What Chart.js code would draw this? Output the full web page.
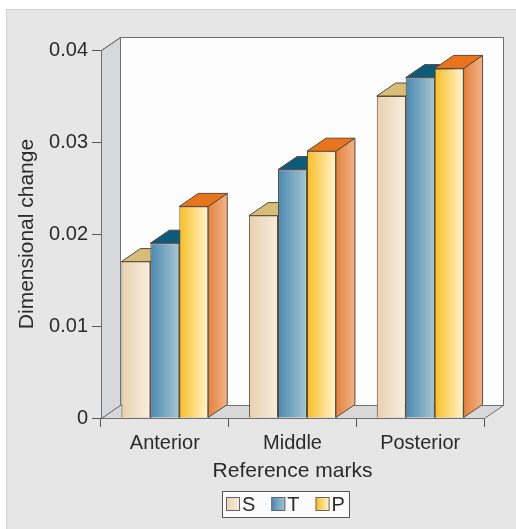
<!DOCTYPE html>
<html>
<head>
<meta charset="utf-8">
<script src="https://cdn.jsdelivr.net/npm/chart.js@4.4.1/dist/chart.umd.min.js"></script>
<style>
  html, body { margin: 0; padding: 0; background: #fff; }
</style>
</head>
<body>
<canvas id="dim-chart" width="516" height="529"></canvas>
<script>
const categories = ['Anterior', 'Middle', 'Posterior'];
const seriesNames = ['S', 'T', 'P'];
const sValues = [0.017, 0.022, 0.035];
const tValues = [0.019, 0.027, 0.037];
const pValues = [0.023, 0.029, 0.038];
const yTicks = [0, 0.01, 0.02, 0.03, 0.04];

const DEPTH_X = 19, DEPTH_Y = 13;
const CAT_PCT = 0.68;
const FONT = '"Liberation Sans", Arial, Helvetica, sans-serif';
const EDGE = '#5a4a38';
const TEXT = '#2b2b2b';

// front gradient (left -> right), top face, side face gradient
const palette = [
  { front: ['#e8d1ae', '#f8ede0'], top: '#d8bd78', side: ['#d6b98f', '#e9d3b2'] },
  { front: ['#4a89b2', '#a8c5d1'], top: '#0d5a7b', side: ['#3d7495', '#6b9bb3'] },
  { front: ['#f8be24', '#fff4cf'], top: '#e8741c', side: ['#e2823d', '#f3b489'] }
];

function hGrad(ctx, x0, x1, stops) {
  const g = ctx.createLinearGradient(x0, 0, x1, 0);
  g.addColorStop(0, stops[0]);
  g.addColorStop(1, stops[1]);
  return g;
}

function frontFill(d) {
  return (c) => {
    const chart = c.chart;
    const xs = chart.scales.x;
    if (!chart.chartArea || !xs || c.dataIndex === undefined) return palette[d].front[0];
    const slot = xs.width / categories.length * CAT_PCT / seriesNames.length;
    const left = xs.getPixelForValue(c.dataIndex) + (d - (seriesNames.length - 1) / 2) * slot - slot / 2;
    return hGrad(chart.ctx, left, left + slot, palette[d].front);
  };
}

function poly(ctx, pts, fill, stroke) {
  ctx.beginPath();
  pts.forEach((p, i) => i ? ctx.lineTo(p[0], p[1]) : ctx.moveTo(p[0], p[1]));
  ctx.closePath();
  if (fill) { ctx.fillStyle = fill; ctx.fill(); }
  if (stroke) { ctx.strokeStyle = stroke; ctx.stroke(); }
}

const h = v => Math.round(v) + 0.5;

const box3d = {
  id: 'box3d',
  beforeDraw(chart) {
    const ctx = chart.ctx;
    ctx.save();
    ctx.fillStyle = '#ffffff';
    ctx.fillRect(0, 0, chart.width, chart.height);
    ctx.fillStyle = '#e6e6e6';
    ctx.fillRect(6, 9, chart.width - 6, chart.height - 9);
    ctx.strokeStyle = '#d0d0d0';
    ctx.beginPath();
    ctx.moveTo(6.5, chart.height); ctx.lineTo(6.5, 9.5); ctx.lineTo(chart.width, 9.5);
    ctx.stroke();
    ctx.restore();
  },
  beforeDatasetsDraw(chart) {
    const {ctx, chartArea: a} = chart;
    const dx = DEPTH_X, dy = DEPTH_Y;
    const L = h(a.left), R = h(a.right), T = h(a.top), B = h(a.bottom);
    ctx.save();
    ctx.lineWidth = 1;
    // back wall
    poly(ctx, [[L + dx, T - dy], [R + dx, T - dy], [R + dx, B - dy], [L + dx, B - dy]], '#fdfdfd', '#6f6f6f');
    // left wall
    poly(ctx, [[L, T], [L + dx, T - dy], [L + dx, B - dy], [L, B]], '#d6d8da', '#6f6f6f');
    // floor
    poly(ctx, [[L, B], [L + dx, B - dy], [R + dx, B - dy], [R, B]], '#d8d8d8', '#6f6f6f');

    // side and top faces of each bar, taken from the bar elements
    for (let i = 0; i < categories.length; i++) {
      for (let d = 0; d < seriesNames.length; d++) {
        const bar = chart.getDatasetMeta(d).data[i];
        const {x, y, base, width} = bar.getProps(['x', 'y', 'base', 'width'], true);
        const x0 = x - width / 2, x1 = x + width / 2;
        poly(ctx, [[x1, y], [x1 + dx, y - dy], [x1 + dx, base - dy], [x1, base]],
          hGrad(ctx, x1, x1 + dx, palette[d].side), EDGE);
        poly(ctx, [[x0, y], [x0 + dx, y - dy], [x1 + dx, y - dy], [x1, y]], palette[d].top, EDGE);
      }
    }
    ctx.restore();
  },
  afterDraw(chart) {
    const {ctx, chartArea: a} = chart;
    ctx.save();
    ctx.lineWidth = 1;
    // top edge of the left wall
    ctx.strokeStyle = '#6f6f6f';
    ctx.beginPath();
    ctx.moveTo(h(a.left), h(a.top));
    ctx.lineTo(h(a.left) + DEPTH_X, h(a.top) - DEPTH_Y);
    ctx.stroke();

    // legend box
    ctx.font = '20px ' + FONT;
    ctx.textBaseline = 'middle';
    const sw = 14, gapTxt = 2, gapItem = 16, pad = 4;
    const widths = seriesNames.map(n => ctx.measureText(n).width);
    const total = Math.round(pad * 2 + widths.reduce((s, w) => s + w + sw + gapTxt, 0) + gapItem * (seriesNames.length - 1));
    const left = Math.round((a.left + a.right) / 2 - 7 - total / 2);
    const top = Math.round(a.bottom + 73), bh = 26;
    ctx.fillStyle = '#fbfbfb';
    ctx.fillRect(left, top, total, bh);
    ctx.strokeStyle = '#555';
    ctx.strokeRect(left + 0.5, top + 0.5, total, bh);
    let x = left + pad;
    const cy = top + bh / 2;
    seriesNames.forEach((n, d) => {
      const sy = Math.round(cy - sw / 2);
      ctx.fillStyle = hGrad(ctx, x, x + sw, palette[d].front);
      ctx.fillRect(x, sy, sw, sw);
      ctx.strokeStyle = '#666';
      ctx.strokeRect(x + 0.5, sy + 0.5, sw - 1, sw - 1);
      ctx.fillStyle = TEXT;
      ctx.fillText(n, x + sw + gapTxt, cy + 1);
      x += sw + gapTxt + widths[d] + gapItem;
    });
    ctx.restore();
  }
};

const axisFont = { family: FONT, size: 20 };
const titleFont = { family: FONT, size: 21 };

const dim_ctx = document.getElementById('dim-chart').getContext('2d');
const dimChart = new Chart(dim_ctx, {
  type: 'bar',
  plugins: [box3d],
  data: {
    labels: categories,
    datasets: [
      { label: seriesNames[0], data: sValues, backgroundColor: frontFill(0) },
      { label: seriesNames[1], data: tValues, backgroundColor: frontFill(1) },
      { label: seriesNames[2], data: pValues, backgroundColor: frontFill(2) }
    ]
  },
  options: {
    responsive: false,
    animation: false,
    devicePixelRatio: 1,
    layout: { padding: { top: 50, right: 32, bottom: 41, left: 0 } },
    datasets: {
      bar: {
        categoryPercentage: CAT_PCT,
        barPercentage: 1,
        borderWidth: 1,
        borderColor: EDGE,
        borderSkipped: 'start'
      }
    },
    plugins: {
      legend: { display: false },
      tooltip: { enabled: false }
    },
    scales: {
      x: {
        offset: true,
        z: 1,
        grid: { offset: true, drawOnChartArea: false, tickLength: 9, color: '#555' },
        border: { display: true, color: '#555', width: 1 },
        ticks: { color: TEXT, font: axisFont, padding: 4, maxRotation: 0 },
        title: { display: true, text: 'Reference marks', color: TEXT, font: titleFont, padding: { top: 0, bottom: 4 } },
        afterFit(s) { s.height = 70; }
      },
      y: {
        min: 0,
        max: 0.04,
        z: 1,
        afterBuildTicks(s) { s.ticks = yTicks.map(v => ({ value: v })); },
        grid: { drawOnChartArea: false, tickLength: 9, color: '#555' },
        border: { display: true, color: '#555', width: 1 },
        ticks: { color: TEXT, font: axisFont, padding: 4, callback: v => String(+v.toFixed(2)) },
        title: { display: true, text: 'Dimensional change', color: TEXT, font: titleFont, padding: { top: 15, bottom: 0 } },
        afterFit(s) { s.width = 101; }
      }
    }
  }
});
</script>
</body>
</html>
